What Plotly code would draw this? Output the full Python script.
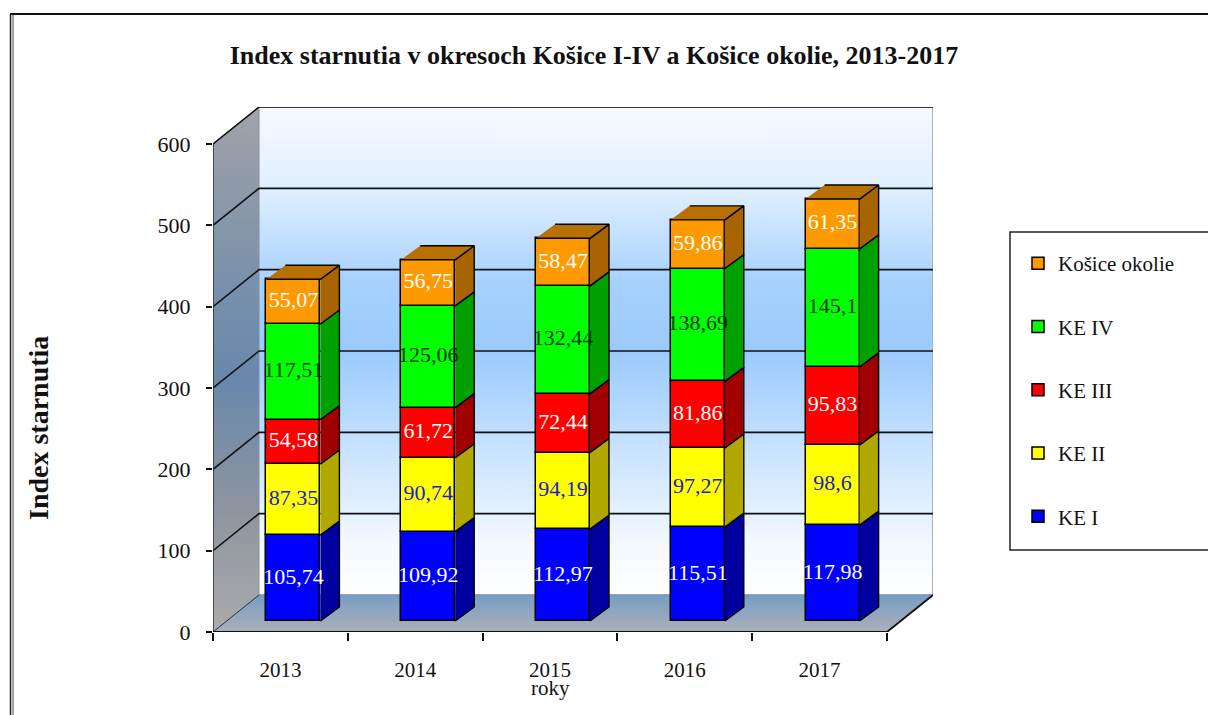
import plotly.graph_objects as go

years = ["2013", "2014", "2015", "2016", "2017"]
ke1 = [105.74, 109.92, 112.97, 115.51, 117.98]
ke2 = [87.35, 90.74, 94.19, 97.27, 98.6]
ke3 = [54.58, 61.72, 72.44, 81.86, 95.83]
ke4 = [117.51, 125.06, 132.44, 138.69, 145.1]
okolie = [55.07, 56.75, 58.47, 59.86, 61.35]
y_ticks = [0, 100, 200, 300, 400, 500, 600]

series_names = ["KE I", "KE II", "KE III", "KE IV", "Košice okolie"]
series_values = [ke1, ke2, ke3, ke4, okolie]
front_colors = ["#0000FF", "#FFFF00", "#FF0000", "#00FF00", "#FF9900"]
side_colors = ["#0000A0", "#B0A800", "#A00000", "#00A000", "#A86400"]
top_color = "#B87000"
label_colors = ["#FFFFFF", "#2020C8", "#FFFFFF", "#063A06", "#FFFFFF"]

FONT = "Liberation Serif"
W, H = 1208, 715
PX_X = 134.8
PX_Y = 488 / 600
X0, X1 = 213, 933
Y0, Y1 = 632, 107
x_max = (X1 - X0) / PX_X
y_max = (Y0 - Y1) / PX_Y
wall_dx = 46 / PX_X
wall_dy = 37 / PX_Y
bar_dx = 13 / PX_X
bar_lift = 11 / PX_Y
bar_w = 54 / PX_X
depth_dx = 19 / PX_X
depth_dy = 14 / PX_Y

fig = go.Figure()


def poly(xs, ys, **kw):
    fig.add_trace(go.Scatter(
        x=xs, y=ys, mode="lines", fill="toself", showlegend=False,
        hoverinfo="skip", cliponaxis=False, **kw))


def seg(xs, ys, color="#111111", width=1.6):
    fig.add_trace(go.Scatter(
        x=xs, y=ys, mode="lines", showlegend=False, hoverinfo="skip",
        cliponaxis=False, line=dict(color=color, width=width)))


n = len(years)
top = y_ticks[-1]
# back wall
poly([wall_dx, n + wall_dx, n + wall_dx, wall_dx],
     [wall_dy, wall_dy, top + wall_dy, top + wall_dy],
     line=dict(color="#A8B0B8", width=2),
     fillgradient=dict(type="vertical", colorscale=[
         [0, "#FFFFFF"], [0.10, "#F4F9FF"], [0.30, "#C8E2FF"], [0.50, "#9ACAFC"],
         [0.64, "#A6D1FD"], [0.82, "#DDEDFF"], [1, "#F6FAFF"]]))
# side wall
poly([0, wall_dx, wall_dx, 0], [0, wall_dy, top + wall_dy, top],
     line=dict(color="#8A8F96", width=1),
     fillgradient=dict(type="vertical", colorscale=[
         [0, "#ABABAD"], [0.22, "#90959F"], [0.48, "#6888AC"], [0.66, "#7890AA"],
         [1, "#A2A3A8"]]))
# floor
poly([0, n, n + wall_dx, wall_dx], [0, 0, wall_dy, wall_dy],
     line=dict(color="#7A99BA", width=1),
     fillgradient=dict(type="vertical", colorscale=[[0, "#ABB0B8"], [1, "#769DC5"]]))
# gridlines
for t in y_ticks[1:]:
    seg([0, wall_dx, n + wall_dx], [t, t + wall_dy, t + wall_dy])
seg([0, wall_dx], [0, wall_dy], color="#333333", width=1)
seg([0, 0], [0, top], color="#333333", width=1.6)
seg([0, n, n + wall_dx], [0, 0, wall_dy], color="#111111", width=1.8)

# bars and their 3-D faces sit on the overlaying axes
cum = [0.0] * n
for s, vals in enumerate(series_values):
    base = [c + bar_lift for c in cum]
    fig.add_trace(go.Bar(
        x=[i + 0.5 + bar_dx for i in range(n)], y=vals, base=base, width=bar_w,
        name=series_names[s], xaxis="x2", yaxis="y2", legendgroup=series_names[s],
        legendrank=100 * (len(series_values) - s),
        marker=dict(color=front_colors[s], line=dict(color="#000000", width=1.5)),
        hovertemplate="%{y}<extra>" + series_names[s] + "</extra>"))
    for i in range(n):
        r = i + 0.5 + bar_dx + bar_w / 2
        l = r - bar_w
        b, t = base[i], base[i] + vals[i]
        poly([r, r + depth_dx, r + depth_dx, r], [b, b + depth_dy, t + depth_dy, t],
             xaxis="x2", yaxis="y2", fillcolor=side_colors[s],
             line=dict(color="#000000", width=1.4))
        if s == len(series_values) - 1:
            poly([l, r, r + depth_dx, l + depth_dx], [t, t, t + depth_dy, t + depth_dy],
                 xaxis="x2", yaxis="y2", fillcolor=top_color,
                 line=dict(color="#000000", width=1.4))
    fig.add_trace(go.Scatter(
        x=[i + 0.5 + bar_dx for i in range(n)],
        y=[base[i] + vals[i] / 2 for i in range(n)],
        text=[str(v).replace(".", ",") for v in vals],
        mode="text", xaxis="x2", yaxis="y2", showlegend=False, hoverinfo="skip",
        cliponaxis=False,
        textfont=dict(family=FONT, size=22, color=label_colors[s])))
    cum = [c + v for c, v in zip(cum, vals)]

dom_x = [X0 / W, X1 / W]
dom_y = [1 - Y0 / H, 1 - Y1 / H]
fig.update_layout(
    width=W, height=H, paper_bgcolor="#FFFFFF", plot_bgcolor="rgba(0,0,0,0)",
    margin=dict(l=0, r=0, t=0, b=0, autoexpand=False), barmode="overlay", bargap=0,
    font=dict(family=FONT, color="#111111", size=19),
    title=dict(text="<b>Index starnutia v okresoch Košice I-IV a Košice okolie, 2013-2017</b>",
               x=594 / W, xanchor="center", y=1 - 55 / H, yanchor="middle",
               font=dict(family=FONT, size=26, color="#111111")),
    xaxis=dict(domain=dom_x, range=[0, x_max], showgrid=False, zeroline=False,
               tickmode="array", tickvals=[i + 0.5 for i in range(n)], ticktext=years,
               ticks="", ticklabelstandoff=23, tickfont=dict(family=FONT, size=21),
               minor=dict(tickmode="array", tickvals=list(range(n + 1)), ticks="outside",
                          ticklen=8, tickcolor="#111111", tickwidth=1.5, showgrid=False)),
    yaxis=dict(domain=dom_y, range=[0, y_max], showgrid=False, zeroline=False,
               tickmode="array", tickvals=y_ticks, ticks="outside", ticklen=6,
               tickcolor="#111111", tickwidth=1.5, ticklabelstandoff=11,
               tickfont=dict(family=FONT, size=22)),
    xaxis2=dict(domain=dom_x, range=[0, x_max], overlaying="x", visible=False),
    yaxis2=dict(domain=dom_y, range=[0, y_max], overlaying="y", visible=False),
    legend=dict(x=1018 / W, xanchor="left", y=1 - 243 / H, yanchor="top",
                traceorder="grouped", tracegroupgap=33,
                bgcolor="rgba(0,0,0,0)", borderwidth=0,
                font=dict(family=FONT, size=21, color="#111111")),
    annotations=[
        dict(text="roky", xref="x", yref="paper", x=2.5, y=1 - 688 / H, showarrow=False,
             xanchor="center", yanchor="middle",
             font=dict(family=FONT, size=21, color="#111111")),
        dict(text="<b>Index starnutia</b>", xref="paper", yref="paper", x=38 / W, y=1 - 428 / H,
             xanchor="center", yanchor="middle", textangle=-90, showarrow=False,
             font=dict(family=FONT, size=28, color="#111111")),
    ],
    shapes=[
        dict(type="rect", xref="paper", yref="paper", x0=1010 / W, x1=1.01,
             y0=1 - 550 / H, y1=1 - 232 / H, line=dict(color="#222222", width=1.5)),
        dict(type="line", xref="paper", yref="paper", x0=10.5 / W, x1=10.5 / W,
             y0=0, y1=1 - 14 / H, line=dict(color="#222222", width=1.5)),
        dict(type="line", xref="paper", yref="paper", x0=13 / W, x1=13 / W,
             y0=0, y1=1 - 15 / H, line=dict(color="#444444", width=1)),
        dict(type="line", xref="paper", yref="paper", x0=10 / W, x1=1,
             y0=1 - 14 / H, y1=1 - 14 / H, line=dict(color="#111111", width=2)),
    ],
)
fig.write_html("out.html", config={"displayModeBar": False},
               post_script="document.body.style.margin='0';")
